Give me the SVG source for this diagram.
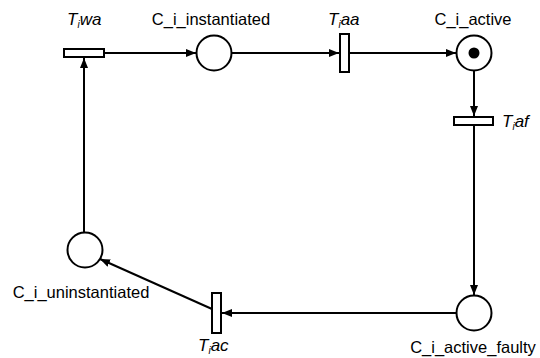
<svg xmlns="http://www.w3.org/2000/svg" width="540" height="358" viewBox="0 0 540 358">
<defs>
<marker id="arr" viewBox="0 0 10 10" refX="10" refY="5" markerWidth="10" markerHeight="10" markerUnits="userSpaceOnUse" orient="auto">
<path d="M0,1 L10,5 L0,9 Z" fill="#000"/>
</marker>
<style>
.place{fill:#fff;stroke:#000;stroke-width:2}
.trans{fill:#fff;stroke:#000;stroke-width:2}
.edge{fill:none;stroke:#000;stroke-width:2;marker-end:url(#arr)}
.lbl{font-family:"Liberation Sans",Arial,sans-serif;font-size:16.5px;fill:#000}
.tl{font-family:"Liberation Sans",Arial,sans-serif;font-size:17px;font-style:italic;fill:#000}
.sub{font-size:10px}
</style>
</defs>
<rect width="540" height="358" fill="#fff"/>
<g id="connectors">
<line class="edge" x1="104" y1="53" x2="196" y2="53"/>
<line class="edge" x1="232" y1="53" x2="339" y2="53"/>
<line class="edge" x1="349" y1="53" x2="456" y2="53"/>
<line class="edge" x1="474" y1="70" x2="474" y2="116"/>
<line class="edge" x1="474" y1="126" x2="474" y2="295"/>
<line class="edge" x1="456" y1="313" x2="222" y2="313"/>
<line class="edge" x1="212" y1="309" x2="100" y2="259"/>
<line class="edge" x1="84" y1="232" x2="84" y2="58"/>
</g>
<g id="Tiwa">
<rect class="trans" x="64" y="49" width="40" height="8"/>
<text class="tl" x="67" y="25">T<tspan class="sub" dy="3">i</tspan><tspan dy="-3">wa</tspan></text>
</g>
<g id="C_i_instantiated">
<circle class="place" cx="214" cy="53" r="17.5"/>
<text class="lbl" x="211" y="25" text-anchor="middle">C_i_instantiated</text>
</g>
<g id="Tiaa">
<rect class="trans" x="340" y="34" width="9" height="38"/>
<text class="tl" x="328" y="25">T<tspan class="sub" dy="3">i</tspan><tspan dy="-3">aa</tspan></text>
</g>
<g id="C_i_active">
<circle class="place" cx="474" cy="53" r="17.5"/>
<circle cx="474" cy="53" r="5.5" fill="#000"/>
<text class="lbl" x="473" y="25" text-anchor="middle">C_i_active</text>
</g>
<g id="Tiaf">
<rect class="trans" x="454" y="117" width="39" height="8"/>
<text class="tl" x="502" y="127">T<tspan class="sub" dy="3">i</tspan><tspan dy="-3">af</tspan></text>
</g>
<g id="C_i_active_faulty">
<circle class="place" cx="474" cy="313" r="17.5"/>
<text class="lbl" x="473" y="353" text-anchor="middle">C_i_active_faulty</text>
</g>
<g id="Tiac">
<rect class="trans" x="212" y="293" width="9" height="40"/>
<text class="tl" x="198" y="351">T<tspan class="sub" dy="3">i</tspan><tspan dy="-3">ac</tspan></text>
</g>
<g id="C_i_uninstantiated">
<circle class="place" cx="85" cy="250" r="17.5"/>
<text class="lbl" x="81" y="298" text-anchor="middle">C_i_uninstantiated</text>
</g>
</svg>
